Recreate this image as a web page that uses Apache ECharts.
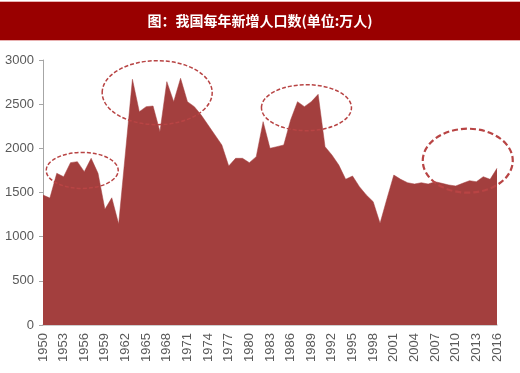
<!DOCTYPE html>
<html><head><meta charset="utf-8">
<script src="https://cdn.jsdelivr.net/npm/echarts@6/dist/echarts.min.js"></script>
<style>html,body{margin:0;padding:0;background:#fff}#c{width:520px;height:373px}</style>
</head><body><div id="c"></div>
<script>
var titleText = '图：我国每年新增人口数(单位:万人)';
var years = [];
for (var y = 1950; y <= 2016; y++) years.push(String(y));
var values = [1472,1437,1717,1679,1838,1849,1736,1887,1717,1310,1440,1143,1960,2782,2415,2472,2479,2189,2755,2528,
  2793,2528,2472,2377,2264,2151,2038,1800,1887,1887,1838,1906,2302,2000,2019,2038,2321,2528,2472,2528,
  2611,2019,1925,1811,1650,1687,1566,1472,1396,1151,1430,1698,1649,1611,1596,1611,1596,1622,1604,1585,
  1574,1604,1634,1622,1679,1649,1774];
var yTicks = [0,500,1000,1500,2000,2500,3000];
// annotation ellipses: [center year, center value, rx px, ry px, lineWidth, dash]
var ovals = [
  [1955.7, 1750, 36, 18, 1.5, [4,2]],
  [1966.6, 2630, 55, 32, 1.5, [4,2]],
  [1988.3, 2460, 45, 23, 1.5, [4,2]],
  [2011.75, 1860, 45, 32, 2.2, [6,3]]
];
var chart = echarts.init(document.getElementById('c'));
chart.setOption({
  animation: false,
  graphic: [
    {type:'rect', shape:{x:0,y:1,width:520,height:40}, style:{fill:'#e8b0b0'}, z:0},
    {type:'rect', shape:{x:0,y:2,width:520,height:38}, style:{fill:'#990000'}, z:1},
    {type:'text', x:260, y:21, style:{text:titleText, fill:'#ffffff', font:'bold 14px "Noto Sans CJK SC"', align:'center', verticalAlign:'middle'}, z:2}
  ],
  grid: {left:43, right:23, top:60, bottom:48},
  xAxis: {
    type:'category', data: years, boundaryGap:false,
    axisLine:{lineStyle:{color:'#bfbfbf', width:1.5}},
    axisTick:{show:false},
    axisLabel:{interval:2, rotate:90, color:'#595959', fontFamily:'Liberation Sans, Arial', fontSize:13, margin:8}
  },
  yAxis: {
    type:'value', min:0, max:3000, interval:500,
    axisLine:{show:true, lineStyle:{color:'#a6a6a6'}},
    axisTick:{show:true, length:4, lineStyle:{color:'#a6a6a6'}},
    splitLine:{show:false},
    axisLabel:{color:'#595959', fontFamily:'Liberation Sans, Arial', fontSize:13, margin:9,
      formatter:function(v){ return String(v); }}
  },
  series: [{
    type:'line', data: values, symbol:'none',
    lineStyle:{width:0.5, color:'#a33f3e'},
    areaStyle:{color:'#a33f3e', opacity:1}
  }]
});
var g = chart.getOption().graphic[0].elements.slice();
ovals.forEach(function(o){
  var p = chart.convertToPixel({gridIndex:0}, [String(Math.round(o[0])), o[1]]);
  var p0 = chart.convertToPixel({gridIndex:0}, [String(Math.floor(o[0])), o[1]]);
  var p1 = chart.convertToPixel({gridIndex:0}, [String(Math.floor(o[0])+1), o[1]]);
  var cx = p0[0] + (p1[0]-p0[0])*(o[0]-Math.floor(o[0]));
  g.push({type:'ellipse', shape:{cx:cx, cy:p[1], rx:o[2], ry:o[3]},
    style:{fill:null, stroke:'#b84444', lineWidth:o[4], lineDash:o[5]}, z:100});
});
chart.setOption({graphic: g}, {replaceMerge:['graphic']});
</script></body></html>
